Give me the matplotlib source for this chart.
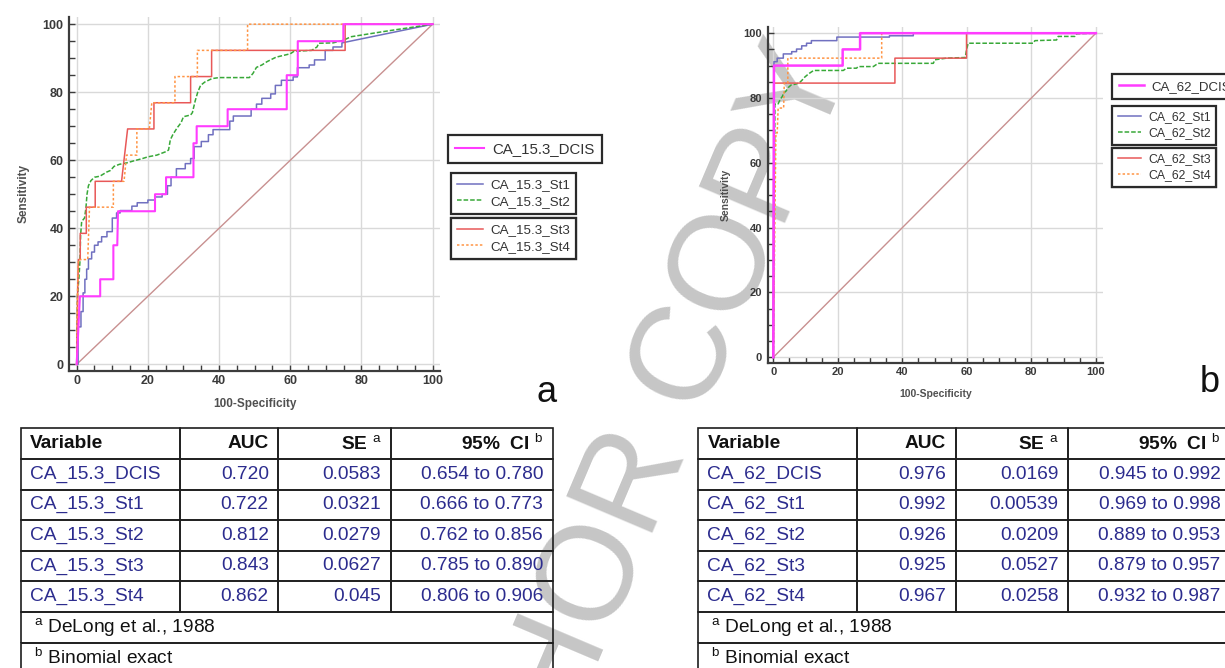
import matplotlib
matplotlib.use('Agg')
import matplotlib.pyplot as plt
from matplotlib.ticker import MultipleLocator
import numpy as np

plt.rcParams['font.family'] = ['Liberation Sans', 'DejaVu Sans']
plt.rcParams['mathtext.fontset'] = 'custom'
plt.rcParams['mathtext.rm'] = 'Liberation Sans'
plt.rcParams['mathtext.it'] = 'Liberation Sans:italic'
plt.rcParams['mathtext.bf'] = 'Liberation Sans:bold'

# ROC curves: (100-specificity, sensitivity) corner points
# panel a, CA 15.3
a_dcis = [(0, 0), (0.9, 20), (6.6, 20), (6.6, 25), (10.3, 25), (10.3, 35), (11.4, 35), (11.6, 45),
          (22.0, 45), (22.0, 50), (25.1, 50), (25.1, 55), (32.8, 55), (32.8, 65), (33.7, 65),
          (33.7, 70), (42.4, 70), (42.4, 75), (59.0, 75), (59.0, 85), (62.1, 85), (62.1, 95),
          (74.9, 95), (74.9, 100), (100, 100)]
a_st1 = [(0, 0), (0.4, 0), (0.4, 11), (1.2, 11), (1.2, 15.5), (1.8, 15.5), (1.8, 21), (2.3, 21),
         (2.3, 25), (2.8, 25), (2.8, 28), (3.3, 28), (3.3, 31), (4.2, 31), (4.2, 33), (5, 33),
         (5, 35), (6, 35), (6, 36), (7, 36), (7, 37.5), (8.5, 37.5), (8.5, 39), (10, 39), (10, 43),
         (11.2, 43), (11.2, 44.5), (12.2, 44.5), (12.2, 45.2), (15.5, 45.2), (15.5, 46.5),
         (17, 46.5), (17, 47.5), (20, 47.5), (20, 48.3), (22, 48.3), (22, 49.2), (24, 49.2),
         (24, 50), (25.5, 50), (25.5, 52.5), (26.5, 52.5), (26.5, 55), (28, 55), (28, 57.5),
         (30.5, 57.5), (30.5, 59), (32, 59), (32, 60.5), (33, 60.5), (33, 64), (35, 64),
         (35, 65.5), (37, 65.5), (37, 67.5), (38.3, 67.5), (38.3, 69), (43, 69), (43, 71.5),
         (44, 71.5), (44, 73), (49, 73), (49, 75), (50.5, 75), (50.5, 76.5), (52, 76.5),
         (52, 78.2), (54.5, 78.2), (54.5, 79.5), (55.8, 79.5), (55.8, 82), (57.5, 82),
         (57.5, 83.5), (60.8, 83.5), (60.8, 84.5), (62, 84.5), (62, 87.2), (65.3, 87.2),
         (65.3, 88), (66.8, 88), (66.8, 89.5), (69.8, 89.5), (69.8, 92.3), (72, 92.3),
         (72, 93.3), (74.5, 93.3), (74.5, 94.5), (100, 100)]
a_st2 = [(0, 0), (0.2, 20), (0.6, 25), (0.9, 30), (1.1, 38), (1.4, 42), (2.2, 43), (2.6, 46),
         (2.9, 50), (3.3, 52.5), (4.0, 54), (5, 55), (6.5, 55.3), (8.4, 56.5), (9.5, 57),
         (10.5, 58.2), (12, 58.8), (14, 59.2), (16, 59.8), (18.5, 60.5), (20, 61), (22.5, 61.5),
         (25, 62.5), (25.8, 63), (26.3, 66), (27, 67.5), (28.2, 69.5), (29.3, 71), (30, 72.8),
         (32, 73.3), (32.5, 74), (33.3, 77.5), (34, 80), (34.8, 82), (36, 83), (38, 84),
         (40, 84.3), (48.5, 84.3), (49.5, 85.5), (50.5, 87.3), (52, 88), (53.5, 89), (56, 90.3),
         (60, 91.3), (61, 92), (66, 92.3), (67.5, 93.3), (68, 94.4), (72, 94.5), (75, 95.3),
         (77, 96.3), (86, 97.8), (100, 100)]
a_st3 = [(0, 0), (0.3, 23.1), (0.5, 30.8), (1.0, 30.8), (1.0, 38.5), (2.7, 38.5), (2.7, 46.2),
         (5.2, 46.2), (5.2, 53.8), (12.6, 53.8), (14.3, 69.2), (21.7, 69.2), (21.7, 76.9),
         (32.0, 76.9), (32.0, 84.6), (37.9, 84.6), (37.9, 92.3), (75.4, 92.3), (75.4, 100),
         (100, 100)]
a_st4 = [(0, 0), (0.2, 20), (0.5, 30.8), (3.1, 30.8), (3.6, 46.2), (10.3, 46.2), (10.3, 53.8),
         (13.3, 53.8), (14.0, 61.5), (16.9, 61.5), (16.9, 69.2), (20.4, 69.2), (21.1, 76.9),
         (27.6, 76.9), (27.6, 84.6), (33.9, 84.6), (33.9, 92.3), (48.0, 92.3), (48.0, 100),
         (100, 100)]

# panel b, CA 62
b_dcis = [(0, 0), (0.2, 90), (21.5, 90), (21.5, 95), (26.9, 95), (26.9, 100), (100, 100)]
b_st1 = [(0, 0), (0.2, 91.2), (1.2, 91.2), (1.2, 92.3), (3.1, 92.3), (3.1, 93.6), (5.7, 93.6),
         (5.7, 94.3), (7.2, 94.3), (7.2, 95.1), (8.8, 95.1), (8.8, 96.1), (10.3, 96.1),
         (10.3, 96.9), (11.8, 96.9), (11.8, 97.7), (19.7, 97.7), (19.7, 98.8), (36, 98.8),
         (36, 99.2), (43.4, 99.2), (43.4, 100), (100, 100)]
b_st2 = [(0, 0), (0.5, 78.2), (1.5, 78.2), (2.1, 79.5), (2.8, 80.5), (3.2, 81.5), (4.0, 82.2),
         (4.6, 83.2), (5.5, 84), (6.5, 84.2), (8.0, 84.6), (9.0, 85.6), (9.8, 86.5), (11.0, 87.5),
         (12.5, 88.5), (21.7, 88.5), (22.7, 89.2), (25.8, 89.2), (26.3, 89.7), (31, 89.7),
         (32.5, 90.7), (49.6, 90.7), (50.1, 91.8), (53.7, 92.3), (59.5, 92.5), (59.9, 94.9),
         (60.4, 96.9), (80.6, 96.9), (81.1, 97.7), (87.8, 97.9), (88.3, 99), (93.5, 99),
         (94, 99.8), (100, 100)]
b_st3 = [(0, 0), (0.2, 84.6), (37.7, 84.6), (37.7, 92.3), (59.9, 92.3), (59.9, 100), (100, 100)]
b_st4 = [(0, 0), (0.8, 69.2), (1.2, 69.2), (1.5, 76.9), (3.2, 76.9), (3.4, 84.6), (4.5, 84.6),
         (4.5, 92.3), (33.6, 92.3), (33.6, 100), (100, 100)]

a_names = ['CA_15.3_DCIS', 'CA_15.3_St1', 'CA_15.3_St2', 'CA_15.3_St3', 'CA_15.3_St4']
b_names = ['CA_62_DCIS', 'CA_62_St1', 'CA_62_St2', 'CA_62_St3', 'CA_62_St4']

# table values
a_auc = ['0.720', '0.722', '0.812', '0.843', '0.862']
a_se = ['0.0583', '0.0321', '0.0279', '0.0627', '0.045']
a_ci = ['0.654 to 0.780', '0.666 to 0.773', '0.762 to 0.856', '0.785 to 0.890', '0.806 to 0.906']
b_auc = ['0.976', '0.992', '0.926', '0.925', '0.967']
b_se = ['0.0169', '0.00539', '0.0209', '0.0527', '0.0258']
b_ci = ['0.945 to 0.992', '0.969 to 0.998', '0.889 to 0.953', '0.879 to 0.957', '0.932 to 0.987']
header = ['Variable', 'AUC', r'SE $^{\mathrm{a}}$', r'95%  CI $^{\mathrm{b}}$']
notes = [r'$^{\mathrm{a}}$ DeLong et al., 1988', r'$^{\mathrm{b}}$ Binomial exact']

colors = ['#ff3cff', '#7070c0', '#38a838', '#e85858', '#ff9444']
styles = ['-', '-', (0, (3, 1.3)), '-', (0, (1.6, 1.4))]
groups = [[0], [1, 2], [3, 4]]

W, H = 1225, 668
fig = plt.figure(figsize=(W / 100, H / 100), dpi=100)


def px_rect(x0, y0, x1, y1):
    return [x0 / W, 1 - y1 / H, (x1 - x0) / W, (y1 - y0) / H]


def roc_panel(rect, curves, names, xlim, ylim, tick_fs, lab_fs, lw_dcis, leg_pos, leg_fs,
              leg_pad, leg_sp, ylabpad):
    ax = fig.add_axes(rect)
    ax.set_facecolor('none')
    ax.plot([0, 100], [0, 100], color='#c89090', lw=1.0, zorder=2)
    for i, c in enumerate(curves):
        xy = np.array(c)
        ax.plot(xy[:, 0], xy[:, 1], color=colors[i], ls=styles[i],
                lw=lw_dcis if i == 0 else 1.1, label=names[i], zorder=3 + (i == 0))
    ax.set_xlim(*xlim)
    ax.set_ylim(*ylim)
    ax.xaxis.set_major_locator(MultipleLocator(20))
    ax.yaxis.set_major_locator(MultipleLocator(20))
    ax.xaxis.set_minor_locator(MultipleLocator(5))
    ax.yaxis.set_minor_locator(MultipleLocator(5))
    ax.grid(True, which='major', color='#d9d9d9', lw=1.0, zorder=0)
    for s in ['top', 'right']:
        ax.spines[s].set_visible(False)
    for s in ['left', 'bottom']:
        ax.spines[s].set_color('#3c3c3c')
        ax.spines[s].set_linewidth(1.6)
    ax.tick_params(which='both', direction='in', length=4, width=1.0, color='#3c3c3c',
                   labelsize=tick_fs, labelcolor='#3a3a3a')
    ax.tick_params(axis='y', pad=4)
    ax.tick_params(axis='x', pad=3)
    for lbl in ax.get_xticklabels() + ax.get_yticklabels():
        lbl.set_fontweight('bold')
    ax.set_xlabel('100-Specificity', fontsize=lab_fs, fontweight='bold', color='#505050', labelpad=8)
    ax.set_ylabel('Sensitivity', fontsize=lab_fs, fontweight='bold', color='#505050', labelpad=ylabpad)
    lines = ax.get_lines()[1:]
    for g, pos, fs, bp, sp in zip(groups, leg_pos, leg_fs, leg_pad, leg_sp):
        leg = ax.legend([lines[i] for i in g], [names[i] for i in g],
                        loc='upper left', bbox_to_anchor=pos, bbox_transform=fig.transFigure,
                        borderaxespad=0, fontsize=fs, frameon=True, fancybox=False,
                        framealpha=1, edgecolor='#2a2a2a', handlelength=1.95,
                        handletextpad=0.55, labelspacing=sp, borderpad=bp, labelcolor='#333333')
        leg.get_frame().set_linewidth(1.6)
        ax.add_artist(leg)
    return ax


roc_panel(px_rect(69, 16.7, 440, 371), [a_dcis, a_st1, a_st2, a_st3, a_st4], a_names,
          (-2.16, 102.05), (-1.97, 102.2), 9, 8.5, 1.5,
          [(448 / W, 1 - 135 / H), (451 / W, 1 - 173 / H), (451 / W, 1 - 218 / H)],
          [10.8, 9.6, 9.6], [0.48, 0.45, 0.45], [0.1, 0.3, 0.3], 9)
roc_panel(px_rect(767.7, 26.7, 1103.3, 363.3), [b_dcis, b_st1, b_st2, b_st3, b_st4], b_names,
          (-1.74, 102.3), (-1.85, 102.0), 8, 7.5, 1.8,
          [(1112 / W, 1 - 74 / H), (1112 / W, 1 - 106 / H), (1112 / W, 1 - 148 / H)],
          [9.5, 8.8, 8.8], [0.5, 0.45, 0.45], [0.1, 0.33, 0.33], 9)

fig.text(547 / W, 1 - 393 / H, 'a', fontsize=26, ha='center', va='center', color='#111111')
fig.text(1210 / W, 1 - 383 / H, 'b', fontsize=26, ha='center', va='center', color='#111111')

col_px = [159.3, 98.3, 112.4, 162.0]


def auc_table(x0, names, auc, se, ci):
    y0 = 428.3
    ax = fig.add_axes(px_rect(x0, y0, x0 + sum(col_px), y0 + 8 * 30.6))
    ax.axis('off')
    rows = [header] + [list(r) for r in zip(names, auc, se, ci)] + [[n, '', '', ''] for n in notes]
    tab = ax.table(cellText=rows, colWidths=col_px, bbox=[0, 0, 1, 1], cellLoc='right')
    tab.auto_set_font_size(False)
    tab.set_fontsize(13.8)
    for (r, c), cell in tab.get_celld().items():
        cell.set_facecolor('none')
        cell.set_edgecolor('#1e1e1e')
        cell.set_linewidth(1.2)
        cell.PAD = 9.5 / col_px[c]
        txt = cell.get_text()
        if c == 0:
            txt.set_horizontalalignment('left')
        if r == 0:
            txt.set_fontweight('bold')
            txt.set_color('#111111')
        elif r <= 5:
            txt.set_color('#2c2c8e')
        else:
            txt.set_color('#111111')
            cell.PAD = 13 / col_px[c]
            cell.visible_edges = {0: 'BTL', 3: 'BTR'}.get(c, 'BT')


auc_table(20.7, a_names, a_auc, a_se, a_ci)
auc_table(698, b_names, b_auc, b_se, b_ci)

# watermark behind everything
fig.text(626 / W, 1 - 508 / H, 'AUTHOR COPY', fontsize=97, rotation=67, rotation_mode='anchor',
         ha='center', va='center', color='#c6c6c6', zorder=-5)

fig.savefig('out.png', dpi=100)
